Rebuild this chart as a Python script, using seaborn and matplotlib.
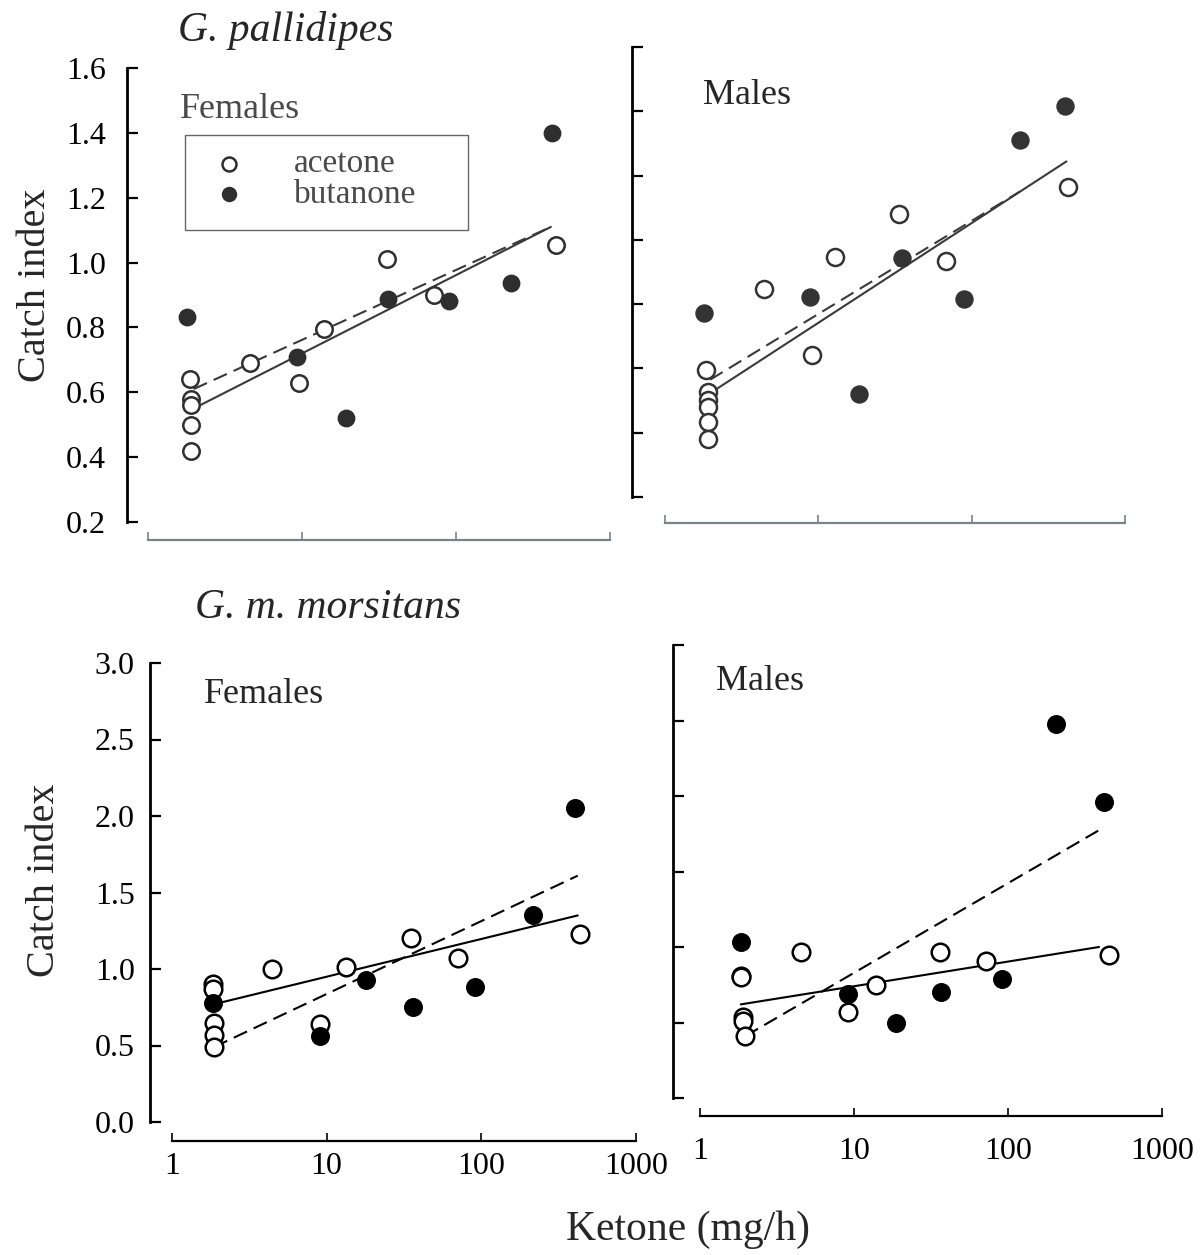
import numpy as np
import pandas as pd
import matplotlib
matplotlib.use("Agg")
import matplotlib.pyplot as plt
from matplotlib.patches import Rectangle
from matplotlib.ticker import FixedLocator, NullLocator, FixedFormatter
import seaborn as sns

# ---------------- data ----------------
# G. pallidipes, females
gp_f_acet_x = [1.86, 1.9, 1.9, 1.9, 1.9, 4.6, 9.5, 13.9, 35.6, 72.5, 444]
gp_f_acet_y = [0.64, 0.58, 0.56, 0.50, 0.42, 0.69, 0.63, 0.795, 1.01, 0.90, 1.055]
gp_f_buta_x = [1.8, 9.3, 19.2, 36, 90, 228, 418]
gp_f_buta_y = [0.833, 0.71, 0.52, 0.888, 0.883, 0.937, 1.40]
gp_f_fit_x = [1.98, 413]
gp_f_fit_acet = [0.55, 1.11]
gp_f_fit_buta = [0.61, 1.11]

# G. pallidipes, males
gp_m_acet_x = [1.85, 1.9, 1.9, 1.9, 1.92, 1.92, 4.4, 9.1, 12.9, 33.7, 68, 425]
gp_m_acet_y = [0.596, 0.528, 0.502, 0.481, 0.434, 0.379, 0.846, 0.643, 0.947, 1.08, 0.934, 1.166]
gp_m_buta_x = [1.79, 8.8, 18.3, 35, 89, 206, 405]
gp_m_buta_y = [0.773, 0.823, 0.52, 0.943, 0.817, 1.312, 1.418]
gp_m_fit_acet_x = [1.97, 415]
gp_m_fit_acet = [0.523, 1.244]
gp_m_fit_buta_x = [1.97, 206]
gp_m_fit_buta = [0.565, 1.15]

# G. m. morsitans, females
gm_f_acet_x = [1.85, 1.85, 1.87, 1.87, 1.87, 4.4, 9.0, 13.3, 35, 71, 437]
gm_f_acet_y = [0.90, 0.87, 0.65, 0.57, 0.49, 1.00, 0.64, 1.01, 1.20, 1.07, 1.23]
gm_f_buta_x = [1.85, 9.1, 18, 36, 91, 215, 405]
gm_f_buta_y = [0.78, 0.56, 0.93, 0.75, 0.88, 1.35, 2.05]
gm_f_fit_x = [1.87, 420]
gm_f_fit_acet = [0.77, 1.35]
gm_f_fit_buta = [0.49, 1.61]

# G. m. morsitans, males
gm_m_acet_x = [1.85, 1.85, 1.9, 1.9, 1.95, 4.5, 9.2, 13.8, 36, 72.5, 455]
gm_m_acet_y = [0.81, 0.80, 0.535, 0.51, 0.41, 0.965, 0.57, 0.75, 0.965, 0.91, 0.95]
gm_m_buta_x = [1.84, 9.2, 18.7, 36.5, 91, 204, 417]
gm_m_buta_y = [1.03, 0.69, 0.495, 0.70, 0.79, 2.48, 1.96]
gm_m_fit_acet_x = [1.84, 390]
gm_m_fit_acet = [0.62, 1.00]
gm_m_fit_buta_x = [1.97, 400]
gm_m_fit_buta = [0.41, 1.78]

x_ticks = [1, 10, 100, 1000]
x_tick_labels = ["1", "10", "100", "1000"]
gp_y_ticks = [0.2, 0.4, 0.6, 0.8, 1.0, 1.2, 1.4, 1.6]
gm_y_ticks = [0.0, 0.5, 1.0, 1.5, 2.0, 2.5, 3.0]

# ---------------- figure ----------------
W, H = 1200, 1255
sns.set_theme(style="ticks")
plt.rcParams['font.family'] = ['Liberation Serif', 'DejaVu Serif']
plt.rcParams['axes.facecolor'] = 'none'
fig = plt.figure(figsize=(W / 100, H / 100), dpi=100)
fig.patch.set_facecolor('white')

PT = 100 / 72.0  # px per point


def make_axes(x0, x1, y_bot, y_top):
    return fig.add_axes([x0 / W, 1 - y_bot / H, (x1 - x0) / W, (y_bot - y_top) / H])


def draw(ax, ax_, ay_, bx_, by_, fa_x, fa_y, fb_x, fb_y, mcol, lcol, sz=150):
    sns.lineplot(x=fa_x, y=fa_y, ax=ax, color=lcol, linewidth=1.5, zorder=2)
    sns.lineplot(x=fb_x, y=fb_y, ax=ax, color=lcol, linewidth=1.5,
                 linestyle=(0, (7, 3.5)), zorder=2)
    sns.scatterplot(x=ax_, y=ay_, ax=ax, s=sz, color='white', edgecolor=mcol,
                    linewidth=1.8, zorder=3, label='acetone')
    sns.scatterplot(x=bx_, y=by_, ax=ax, s=sz, color=mcol, edgecolor=mcol,
                    linewidth=1.0, zorder=3, label='butanone')


def style(ax, ylim, yticks, off_y, off_x, ycol, xcol, show_yl, show_xl,
          ypad=10, xpad=10):
    ax.set_xscale('log')
    ax.set_xlim(1, 1000)
    ax.set_ylim(*ylim)
    for s in ['top', 'right']:
        ax.spines[s].set_visible(False)
    ax.spines['left'].set_position(('outward', off_y / PT))
    ax.spines['bottom'].set_position(('outward', off_x / PT))
    ax.spines['left'].set_bounds(ylim[0], ylim[1])
    ax.spines['bottom'].set_bounds(1, 1000)
    ax.spines['left'].set_linewidth(2.0)
    ax.spines['left'].set_color(ycol)
    ax.spines['bottom'].set_linewidth(1.6)
    ax.spines['bottom'].set_color(xcol)
    ax.xaxis.set_major_locator(FixedLocator(x_ticks))
    ax.xaxis.set_minor_locator(NullLocator())
    ax.yaxis.set_major_locator(FixedLocator(yticks))
    ax.yaxis.set_minor_locator(NullLocator())
    ax.tick_params(axis='y', which='both', direction='in', length=8, width=1.6,
                   color=ycol, labelsize=23, pad=ypad, labelcolor='black')
    ax.tick_params(axis='x', which='both', direction='in', length=6, width=1.2,
                   color=xcol, labelsize=23, pad=xpad, labelcolor='black')
    if show_yl:
        ax.yaxis.set_major_formatter(FixedFormatter([f"{v:.1f}" for v in yticks]))
    else:
        ax.yaxis.set_major_formatter(FixedFormatter([""] * len(yticks)))
    if show_xl:
        ax.xaxis.set_major_formatter(FixedFormatter(x_tick_labels))
    else:
        ax.xaxis.set_major_formatter(FixedFormatter([""] * len(x_ticks)))
    ax.set_xlabel("")
    ax.set_ylabel("")
    ax.grid(False)
    lg = ax.get_legend()
    if lg is not None:
        lg.remove()


# top-left: G. pallidipes females
ax1 = make_axes(148, 610, 522, 68)
draw(ax1, gp_f_acet_x, gp_f_acet_y, gp_f_buta_x, gp_f_buta_y,
     gp_f_fit_x, gp_f_fit_acet, gp_f_fit_x, gp_f_fit_buta, '#2e2e2e', '#3a3a3a', sz=140)
handles, labels = ax1.get_legend_handles_labels()
style(ax1, (0.2, 1.6), gp_y_ticks, 21, 18, 'black', '#7a8288', True, False, ypad=15)

# top-right: G. pallidipes males
ax2 = make_axes(665, 1125, 497, 47)
draw(ax2, gp_m_acet_x, gp_m_acet_y, gp_m_buta_x, gp_m_buta_y,
     gp_m_fit_acet_x, gp_m_fit_acet, gp_m_fit_buta_x, gp_m_fit_buta, '#333333', '#3a3a3a', sz=150)
style(ax2, (0.2, 1.6), gp_y_ticks, 33, 26, 'black', '#7a8288', False, False)

# bottom-left: G. m. morsitans females
ax3 = make_axes(172, 636, 1122, 663)
draw(ax3, gm_f_acet_x, gm_f_acet_y, gm_f_buta_x, gm_f_buta_y,
     gm_f_fit_x, gm_f_fit_acet, gm_f_fit_x, gm_f_fit_buta, 'black', 'black', sz=160)
style(ax3, (0.0, 3.0), gm_y_ticks, 22, 19, 'black', 'black', True, True, ypad=11, xpad=8)

# bottom-right: G. m. morsitans males
ax4 = make_axes(700, 1162, 1098, 645)
draw(ax4, gm_m_acet_x, gm_m_acet_y, gm_m_buta_x, gm_m_buta_y,
     gm_m_fit_acet_x, gm_m_fit_acet, gm_m_fit_buta_x, gm_m_fit_buta, 'black', 'black', sz=160)
style(ax4, (0.0, 3.0), gm_y_ticks, 27, 18, 'black', 'black', False, True, xpad=15)

# legend only in the top-left panel
leg = ax1.legend(handles[:2], ['acetone', 'butanone'], loc='upper left',
                 bbox_to_anchor=(212 / W, 1 - 149 / H), bbox_transform=fig.transFigure,
                 frameon=False, fontsize=24, handlelength=1.0, handletextpad=1.45,
                 labelspacing=0.0, borderaxespad=0, borderpad=0, markerscale=0.85)
for t in leg.get_texts():
    t.set_color('#4a4a4a')
fig.patches.append(Rectangle((185 / W, 1 - 230 / H), (468 - 185) / W, 95 / H,
                             transform=fig.transFigure, fill=False,
                             edgecolor='#666666', linewidth=1.0))


# texts
def ftext(x, y, s, **kw):
    fig.text(x / W, 1 - y / H, s, **kw)


ftext(178, 30, "G. pallidipes", fontsize=30, style='italic', ha='left', va='center')
ftext(195, 608, "G. m. morsitans", fontsize=30, style='italic', ha='left', va='center')
ftext(180, 110, "Females", fontsize=26, color='#4a4a4a', ha='left', va='center')
ftext(703, 95, "Males", fontsize=26, ha='left', va='center')
ftext(204, 695, "Females", fontsize=26, ha='left', va='center')
ftext(716, 682, "Males", fontsize=26, ha='left', va='center')
ftext(36, 285, "Catch index", fontsize=29, rotation=90, ha='center', va='center')
ftext(45, 880, "Catch index", fontsize=29, rotation=90, ha='center', va='center')
ftext(688, 1230, "Ketone (mg/h)", fontsize=30, ha='center', va='center')

fig.savefig("out.png", dpi=100, facecolor='white')
